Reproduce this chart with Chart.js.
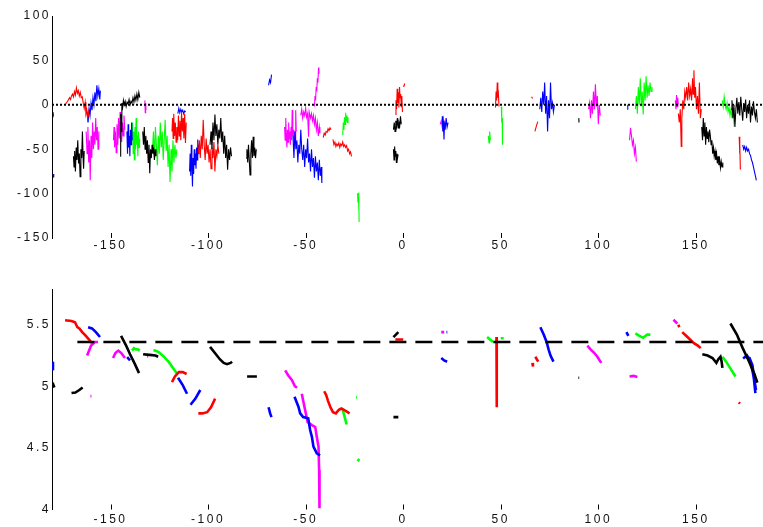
<!DOCTYPE html>
<html>
<head>
<meta charset="utf-8">
<script src="https://cdn.jsdelivr.net/npm/chart.js@4/dist/chart.umd.min.js"></script>
<style>
  html, body { margin: 0; padding: 0; background: #fff; }
  #wrap { position: relative; width: 763px; height: 527px; overflow: hidden; }
  canvas { position: absolute; left: 0; }
  #topChart { top: 0; }
  #bottomChart { top: 262px; }
</style>
</head>
<body>
<div id="wrap">
  <canvas id="topChart" width="763" height="262"></canvas>
  <canvas id="bottomChart" width="763" height="265"></canvas>
</div>
<script>
// Longitude axis (degrees) shared by both panels
const xTicks = [-150, -100, -50, 0, 50, 100, 150];
const topYTicks = [-150, -100, -50, 0, 50, 100];
const bottomYTicks = [4, 4.5, 5, 5.5];

// Upper panel: noisy traces, one list of segments per colour, points are [lon, value]
const topBlack = [
  [[-179.7,-8],[-179.5,-14],[-179.3,-10]],
  [[-169,-58],[-168.7,-70],[-168.4,-52],[-168,-75],[-167.6,-48],[-167.2,-62],[-166.8,-40],[-166.4,-66],[-166,-55],[-165.6,-81],[-165.2,-50],[-164.8,-60],[-164.4,-30],[-164.1,-57],[-163.8,-72],[-163.5,-52]],
  [[-145,-58],[-144.8,-10],[-144.5,-30],[-144.2,2],[-143.8,-3],[-143.4,5],[-143,0],[-142.5,4],[-142,-2],[-141.5,3],[-141,1],[-140.5,6],[-140,0],[-139.5,4],[-139,2],[-138.5,8],[-138,3],[-137.5,10],[-137,5],[-136.5,12],[-136,6],[-135.5,14],[-135,8]],
  [[-133.5,-30],[-133.1,-45],[-132.7,-25],[-132.3,-50],[-131.9,-35],[-131.5,-55],[-131.1,-40],[-130.7,-65],[-130.3,-45],[-129.9,-77],[-129.5,-50],[-129.1,-60],[-128.7,-45],[-128.3,-55],[-127.9,-48],[-127.5,-62],[-127.1,-50],[-126.7,-58]],
  [[-99,-45],[-98.5,-30],[-98,-50],[-97.5,-20],[-97,-40],[-96.5,-11],[-96,-35],[-95.5,-22],[-95,-45],[-94.5,-28],[-94,-38],[-93.5,-15],[-93,-42],[-92.5,-30],[-92,-55],[-91.5,-35],[-91,-60],[-90.5,-45],[-90,-73],[-89.5,-50],[-89,-62],[-88.5,-48],[-88,-58]],
  [[-80.5,-60],[-80.1,-50],[-79.7,-65],[-79.3,-45],[-78.9,-62],[-78.5,-79],[-78.1,-55],[-77.7,-40],[-77.3,-60],[-76.9,-36],[-76.5,-58],[-76.1,-48],[-75.7,-60],[-75.3,-50]],
  [[-5,-28],[-4.6,-20],[-4.2,-30],[-3.8,-18],[-3.4,-24],[-3,-15],[-2.6,-26],[-2.2,-20],[-1.8,-24],[-1.4,-13],[-1,-22]],
  [[-5,-50],[-4.7,-62],[-4.4,-47],[-4.1,-58],[-3.8,-52],[-3.5,-65],[-3.2,-55],[-2.9,-60],[-2.6,-56]],
  [[90,-15],[90.1,-20]],
  [[153,-25],[153.4,-40],[153.8,-15],[154.2,-35],[154.6,-20],[155,-45],[155.4,-25],[155.8,-38],[156.2,-30],[156.6,-42],[157,-28],[157.4,-35],[157.8,-45],[158.2,-40],[158.6,-55],[159,-48],[159.4,-58],[159.8,-52],[160.2,-62],[160.6,-55],[161,-66],[161.4,-58],[161.8,-68],[162.2,-62],[162.6,-71],[163,-64],[163.4,-70],[163.8,-65]],
  [[168,-5],[168.5,5],[169,-15],[169.5,0],[170,-25],[170.5,-5],[171,8],[171.5,-10],[172,3],[172.5,-12],[173,9],[173.5,-5],[174,-18],[174.5,2],[175,-8],[175.5,6],[176,-15],[176.5,0],[177,-10],[177.5,5],[178,-20],[178.5,-2],[179,-12],[179.5,4],[180,-8],[180.5,-15],[181,-5],[181.5,-20]]
];
const topRed = [
  [[-173,1],[-172,4],[-171,8],[-170.5,6],[-170,10],[-169.5,12],[-169,9],[-168.5,15],[-168,11],[-167.5,19],[-167,13],[-166.5,16],[-166,10],[-165.5,14],[-165,8],[-164.5,9],[-164,2],[-163.5,-4],[-163,3],[-162.6,-10],[-162.2,-6],[-161.8,-15],[-161.4,-8],[-161,-14]],
  [[-118.5,-30],[-118.2,-15],[-117.9,-38],[-117.6,-10],[-117.2,-35],[-116.8,-20],[-116.4,-42],[-116,-25],[-115.6,-40],[-115.2,-12],[-114.8,-35],[-114.4,-18],[-114,-40],[-113.6,-8],[-113.2,-30],[-112.8,-15],[-112.4,-38],[-112,-10],[-111.6,-43],[-111.2,-20]],
  [[-105,-55],[-104.5,-40],[-104,-60],[-103.5,-35],[-103,-50],[-102.5,-17],[-102,-45],[-101.5,-62],[-101,-38],[-100.5,-55],[-100,-45],[-99.5,-65],[-99,-50],[-98.5,-72],[-98,-48],[-97.5,-60],[-97,-42],[-96.5,-75],[-96,-50],[-95.5,-58],[-95,-45],[-94.5,-55]],
  [[-41,-37],[-40.5,-32],[-40,-34],[-39.5,-30],[-39,-31],[-38.5,-27],[-38,-29],[-37.5,-26],[-37,-28]],
  [[-36,-39],[-35.5,-45],[-35,-42],[-34.5,-47],[-34,-44],[-33.5,-46],[-33,-43],[-32.5,-48],[-32,-44],[-31.5,-46],[-31,-42],[-30.5,-47],[-30,-45],[-29.5,-48],[-29,-46],[-28.5,-52],[-28,-50],[-27.5,-55],[-27,-53],[-26.5,-58]],
  [[-4,-11],[-3.7,5],[-3.4,-5],[-3.1,18],[-2.8,2],[-2.5,14],[-2.2,-3],[-1.9,20],[-1.6,8],[-1.3,12],[-1,-2],[-0.7,10],[-0.4,-8]],
  [[0.2,20],[0.8,24]],
  [[47.3,-3],[47.6,15],[47.9,5],[48.2,25],[48.5,8],[48.8,12],[49.1,-2]],
  [[65.8,9],[66.3,7]],
  [[67.5,-30],[68,-26],[68.5,-22],[69,-19]],
  [[141,-10],[141.5,-20],[142,-5],[142.5,-47],[142.8,-15],[143.3,5],[143.8,-5],[144.3,15],[144.8,8],[145.3,20],[145.8,5],[146.3,25],[146.8,10],[147.3,18],[147.8,5],[148.3,30],[148.6,12],[149,39],[149.4,8],[149.8,20],[150.3,-5],[150.8,10],[151.3,-10],[151.8,25],[152.3,-15],[152.8,-5]],
  [[172.2,-36],[172.4,-55],[172.6,-45],[172.8,-73]]
];
const topBlue = [
  [[-179.4,-78],[-179.1,-82]],
  [[-162,-8],[-161.5,-20],[-161,-4],[-160.5,-12],[-160,2],[-159.5,-6],[-159,8],[-158.5,0],[-158,14],[-157.5,4],[-157,22],[-156.5,10],[-156,18],[-155.5,6],[-155.2,16]],
  [[-141.6,-30],[-141.3,-55],[-141,-22],[-140.7,-48],[-140.4,-35],[-140.1,-58],[-139.8,-28],[-139.5,-45],[-139.2,-20],[-138.9,-40]],
  [[-115.5,-10],[-115,-4],[-114.5,-9],[-114,-5],[-113.5,-8],[-113,-6],[-112.5,-10],[-112,-7],[-111.5,-8]],
  [[-109.5,-75],[-109.2,-55],[-108.9,-80],[-108.6,-45],[-108.3,-70],[-108,-92],[-107.7,-60],[-107.4,-78],[-107.1,-50],[-106.8,-68],[-106.5,-55],[-106.2,-72],[-105.9,-48],[-105.6,-62],[-105.3,-39],[-105,-55],[-104.7,-45]],
  [[-69,22],[-68.5,28],[-68,25],[-67.5,34]],
  [[-56.5,-35],[-56,-60],[-55.5,-30],[-55,-50],[-54.5,-40],[-54,-65],[-53.5,-45],[-53,-55],[-52.5,-28],[-52,-50],[-51.5,-62],[-51,-45],[-50.5,-70],[-50,-50],[-49.5,-60],[-49,-38],[-48.5,-65],[-48,-55],[-47.5,-75],[-47,-50],[-46.5,-70],[-46,-60],[-45.5,-82],[-45,-58],[-44.5,-75],[-44,-65],[-43.5,-85],[-43,-62],[-42.5,-80],[-42,-70],[-41.7,-88]],
  [[20,-13],[20.3,-30],[20.6,-18],[20.9,-39],[21.2,-20],[21.5,-28],[22,-15],[22.5,-25],[23,-20]],
  [[70,-5],[70.5,8],[71,-8],[71.5,15],[72,0],[72.5,25],[73,-10],[73.5,10],[74,-30],[74.5,5],[75,-15],[75.5,25],[76,-5],[76.5,2],[77,-8],[77.5,0]],
  [[114.8,-5],[115,0],[115.2,-3]],
  [[174,-45],[174.5,-50],[175,-47],[175.5,-52],[176,-48],[176.5,-52],[177,-50],[177.5,-55],[178,-57],[178.5,-62],[179,-65],[179.5,-70],[180,-75],[180.5,-80],[181,-85]]
];
const topMagenta = [
  [[-162.5,-30],[-162,-55],[-161.6,-25],[-161.2,-65],[-160.8,-40],[-160.4,-85],[-160,-35],[-159.6,-60],[-159.2,-20],[-158.8,-50],[-158.4,-30],[-158,-45],[-157.6,-15],[-157.2,-40],[-156.8,-25],[-156.4,-50],[-156,-30]],
  [[-148.5,-40],[-148.2,-25],[-147.9,-48],[-147.5,-30],[-147.1,-54],[-146.7,-22],[-146.3,-45],[-145.9,-15],[-145.5,-38],[-145.1,-8],[-144.7,-30],[-144.3,-42],[-143.9,-20],[-143.5,-35],[-143.1,-12],[-142.7,-28]],
  [[-132.4,5],[-132.2,-9],[-132,2],[-131.8,-6]],
  [[-60.8,-25],[-60.5,-40],[-60.2,-15],[-59.9,-35],[-59.6,-48],[-59.3,-28],[-59,-42],[-58.7,-20],[-58.4,-38],[-58.1,-30],[-57.8,-45],[-57.5,-25],[-57.2,-40],[-56.9,-6],[-56.6,-35],[-56.3,-28],[-56,-45],[-55.7,-30],[-55.4,-40],[-55.1,-6],[-54.8,-30]],
  [[-52.5,-12],[-52,-5],[-51.5,-15],[-51,-8],[-50.5,-12],[-50,-4],[-49.5,-14],[-49,-10],[-48.5,-36],[-48.2,-8],[-47.5,-15],[-47,-10],[-46.5,-18],[-46,-12],[-45.5,-22],[-45,-15],[-44.5,-28],[-44,-20],[-43.5,-35],[-43,-25],[-42.7,-32]],
  [[-45.5,-2],[-45.2,10],[-44.9,5],[-44.6,20],[-44.3,15],[-44,30],[-43.7,25],[-43.4,42],[-43.2,35]],
  [[19,-22],[19.5,-18],[20,-25],[20.5,-15],[21,-20]],
  [[95,-5],[95.5,2],[96,-15],[96.5,5],[97,-10],[97.5,15],[98,-5],[98.5,23],[99,-2],[99.5,10],[100,-22],[100.5,0],[101,-12]],
  [[116,-40],[116.5,-26],[117,-35],[117.5,-45],[118,-40],[118.5,-55],[119,-48],[119.5,-64]],
  [[139.5,5],[139.8,-5],[140.1,11],[140.4,-2],[140.7,8],[141,0]]
];
const topGreen = [
  [[-139,-40],[-138.7,-20],[-138.4,-55],[-138.1,-30],[-137.8,-62],[-137.5,-25],[-137.2,-50],[-136.9,-15],[-136.6,-45],[-136.3,-35],[-136,-58],[-135.7,-30],[-135.4,-48],[-135.1,-38]],
  [[-128.5,-50],[-128,-30],[-127.5,-60],[-127,-25],[-126.5,-45],[-126,-68],[-125.5,-35],[-125,-55],[-124.5,-20],[-124,-48],[-123.5,-30],[-123,-62],[-122.5,-40],[-122,-17],[-121.5,-52],[-121,-35],[-120.5,-70],[-120,-45],[-119.5,-87],[-119,-50],[-118.5,-75],[-118,-40],[-117.5,-65],[-117,-45],[-116.5,-60],[-116,-50]],
  [[-31,-34],[-30.7,-20],[-30.4,-28],[-30.1,-14],[-29.8,-22],[-29.5,-9],[-29.2,-18],[-28.9,-12],[-28.6,-20],[-28.3,-14]],
  [[-23.4,-100],[-23.2,-110],[-23,-99],[-22.8,-118],[-22.7,-105],[-22.6,-132]],
  [[43.6,-35],[44,-43],[44.3,-30],[44.7,-40]],
  [[50.3,-2],[50.5,-20],[50.7,-15],[50.9,-45]],
  [[119,-5],[119.5,10],[120,-10],[120.5,20],[121,0],[121.5,30],[122,-2],[122.5,15],[123,-11],[123.5,25],[124,5],[124.5,32],[125,8],[125.5,22],[126,10],[126.5,25],[127,15],[127.5,20]],
  [[163.5,5],[164,-2],[164.5,9],[165,0],[165.5,-5],[166,2],[166.5,-8],[167,-3],[167.5,-12],[168,-5],[168.5,-15],[169,-8],[169.5,-20],[170,-12]]
];
const topReference = [[-180, 0], [184.4, 0]];

// Lower panel: smooth tracks
const bottomBlack = [
  [[-179.7,5.03],[-178.8,4.99]],
  [[-170,4.945],[-168,4.95],[-166,4.97],[-164.3,4.99]],
  [[-144.6,5.41],[-142,5.33],[-140,5.26],[-137.5,5.18],[-135.4,5.107]],
  [[-133.3,5.26],[-130,5.255],[-127,5.25],[-125.6,5.24]],
  [[-99,5.32],[-96.5,5.27],[-94,5.22],[-92,5.19],[-90.3,5.18],[-88.5,5.19],[-87.7,5.2]],
  [[-80,5.08],[-75,5.08]],
  [[-5,5.40],[-2.5,5.44]],
  [[-5,4.75],[-2.5,4.75]],
  [[89.8,5.07],[90.2,5.07]],
  [[153.3,5.26],[156,5.25],[158.5,5.23],[160.5,5.19],[161.5,5.22],[162.6,5.24],[163.2,5.2],[163.6,5.15]],
  [[167.7,5.51],[171,5.42],[174,5.31],[177,5.21],[180,5.1],[181.5,5.03]]
];
const bottomRed = [
  [[-173.3,5.537],[-170,5.53],[-168.2,5.52],[-167,5.48],[-166,5.47],[-164.5,5.44],[-163,5.415],[-161,5.38],[-159.5,5.35]],
  [[-118.5,5.034],[-117,5.08],[-115,5.115],[-113,5.115],[-111,5.1]],
  [[-105,4.78],[-103,4.78],[-100.5,4.79],[-98.5,4.83],[-96.4,4.9]],
  [[-40.5,4.96],[-39.5,4.93],[-38.5,4.88],[-37.3,4.83],[-36,4.79],[-34.5,4.78],[-33,4.81],[-31.7,4.82],[-29.5,4.80],[-27.5,4.78]],
  [[-4,5.38],[0,5.38]],
  [[47.8,5.40],[48,5.1],[47.9,4.83]],
  [[66.2,5.19],[66.5,5.16]],
  [[67.7,5.24],[69.2,5.2]],
  [[141,5.50],[141.5,5.48]],
  [[143,5.44],[145,5.41],[147,5.38],[149,5.35],[151,5.33],[152.5,5.31]],
  [[172,4.87],[172.6,4.86]]
];
const bottomBlue = [
  [[-180,5.2],[-179.5,5.13]],
  [[-161.5,5.48],[-159.5,5.47],[-157.5,5.44],[-155.4,5.4]],
  [[-141.5,5.236],[-140,5.21]],
  [[-115.4,5.07],[-113,5.01],[-110.8,4.94]],
  [[-109,4.85],[-106.5,4.9],[-104,4.97]],
  [[-69,4.83],[-68.2,4.78],[-67.5,4.75]],
  [[-55.7,4.915],[-53.7,4.834],[-52.8,4.78],[-51.3,4.75],[-48.7,4.74],[-47.7,4.645],[-46.8,4.59],[-46,4.51],[-44.3,4.456],[-42.6,4.44]],
  [[19.5,5.23],[21,5.21],[22.5,5.2]],
  [[22.2,5.44],[22.6,5.44]],
  [[70.3,5.48],[72,5.42],[73.5,5.36],[74.5,5.3],[75.5,5.25],[77,5.2]],
  [[114.4,5.44],[115.4,5.41]],
  [[174.2,5.226],[176.2,5.25],[178,5.2],[179.6,5.08],[180.5,4.945]],
  [[175.5,5.24],[177.5,5.23],[179,5.17],[180,5.05],[180.8,4.97]]
];
const bottomMagenta = [
  [[-162,5.25],[-160,5.33],[-158,5.36],[-156.4,5.36]],
  [[-160.3,4.92],[-159.8,4.92]],
  [[-148.7,5.23],[-147.5,5.27],[-146,5.29],[-144.5,5.27],[-142.6,5.23]],
  [[-131.3,5.245],[-130.7,5.245]],
  [[-60.5,5.13],[-59,5.09],[-57,5.05],[-55.5,5.0],[-54.4,4.99]],
  [[-52,4.94],[-50.3,4.81],[-49,4.71],[-46.8,4.685],[-45.1,4.67],[-44.3,4.59],[-43.4,4.51],[-43.1,4.32],[-42.9,4.01]],
  [[19.5,5.44],[21,5.44]],
  [[94.4,5.33],[96,5.3],[98,5.27],[99.5,5.24],[101.5,5.19]],
  [[116,5.08],[118,5.085],[120,5.075]],
  [[138.5,5.54],[140.5,5.51]]
];
const bottomGreen = [
  [[-139,5.29],[-138,5.31],[-137,5.3],[-136,5.3],[-135,5.29]],
  [[-128,5.294],[-125.5,5.28],[-122.9,5.245],[-120.3,5.2],[-117.8,5.145],[-116,5.105]],
  [[-31,4.81],[-30,4.75],[-29,4.69]],
  [[-24.2,4.91],[-23.8,4.91]],
  [[-23.3,4.39],[-22.6,4.41]],
  [[43,5.40],[44.5,5.38],[46,5.36]],
  [[50,5.39],[51.5,5.39]],
  [[119,5.43],[121,5.41],[123,5.395],[125,5.42],[126.7,5.42]],
  [[163.6,5.24],[165.5,5.2],[167.5,5.15],[170.3,5.08]]
];
const bottomReference = [[-167, 5.36], [184.4, 5.36]];

const COLORS = { black: '#000000', red: '#ff0000', blue: '#0000ff', magenta: '#ff00ff', green: '#00ff00' };
const FONT = { family: '"Liberation Sans", Arial, sans-serif', size: 12 };

function toPoints(seg) { return seg.map(p => ({ x: p[0], y: p[1] })); }

function segmentSets(segs, color, width) {
  return segs.map(seg => ({
    data: toPoints(seg),
    borderColor: color,
    borderWidth: width,
    showLine: true,
    pointRadius: 0,
    fill: false,
    tension: 0
  }));
}

// Inward tick marks on the longitude axis, plus spaced-out tick text
const axisDecor = {
  id: 'axisDecor',
  beforeDraw(chart) { chart.ctx.letterSpacing = '2.5px'; },
  afterDraw(chart) {
    const ctx = chart.ctx, xs = chart.scales.x, a = chart.chartArea;
    ctx.save();
    ctx.strokeStyle = '#000';
    ctx.lineWidth = 1;
    ctx.beginPath();
    xs.ticks.forEach(t => {
      const px = Math.round(xs.getPixelForValue(t.value)) + 0.5;
      ctx.moveTo(px, a.bottom - 5);
      ctx.lineTo(px, a.bottom);
    });
    ctx.stroke();
    ctx.restore();
  }
};

function makeOptions(yMin, yMax, yTicks, padTop, xHeight, labelPad) {
  return {
    responsive: false,
    animation: false,
    devicePixelRatio: 1,
    layout: { padding: { top: padTop, left: 0, right: 0, bottom: 0 } },
    plugins: { legend: { display: false }, tooltip: { enabled: false } },
    scales: {
      x: {
        type: 'linear', min: -180, max: 184.4,
        afterBuildTicks: s => { s.ticks = xTicks.map(v => ({ value: v })); },
        afterFit: s => { s.height = xHeight; },
        grid: { display: false, drawTicks: false },
        border: { display: false },
        ticks: { color: '#111', font: FONT, padding: labelPad, maxRotation: 0, callback: v => String(v) }
      },
      y: {
        type: 'linear', min: yMin, max: yMax,
        afterBuildTicks: s => { s.ticks = yTicks.map(v => ({ value: v })); },
        afterFit: s => { s.width = 52; },
        grid: { display: false, drawTicks: false },
        border: { display: true, color: '#000', width: 1 },
        ticks: { color: '#111', font: FONT, padding: 1, callback: v => String(v) }
      }
    }
  };
}

const topSets = [
  { data: toPoints(topReference), borderColor: '#000', borderWidth: 2, borderDash: [2, 2], showLine: true, pointRadius: 0 },
  ...segmentSets(topBlack, COLORS.black, 1.1),
  ...segmentSets(topRed, COLORS.red, 1.1),
  ...segmentSets(topBlue, COLORS.blue, 1.1),
  ...segmentSets(topMagenta, COLORS.magenta, 1.1),
  ...segmentSets(topGreen, COLORS.green, 1.1)
];

const bottomSets = [
  { data: toPoints(bottomReference), borderColor: '#000', borderWidth: 2.5, borderDash: [17, 9], showLine: true, pointRadius: 0 },
  ...segmentSets(bottomBlack, COLORS.black, 2.6),
  ...segmentSets(bottomRed, COLORS.red, 2.6),
  ...segmentSets(bottomBlue, COLORS.blue, 2.6),
  ...segmentSets(bottomMagenta, COLORS.magenta, 2.6),
  ...segmentSets(bottomGreen, COLORS.green, 2.6)
];

new Chart(document.getElementById('topChart'), {
  type: 'scatter',
  data: { datasets: topSets },
  options: makeOptions(-150, 100, topYTicks, 16, 24, 0),
  plugins: [axisDecor]
});

new Chart(document.getElementById('bottomChart'), {
  type: 'scatter',
  data: { datasets: bottomSets },
  options: makeOptions(4, 5.79, bottomYTicks, 27, 17.5, 3),
  plugins: [axisDecor]
});
</script>
</body>
</html>
